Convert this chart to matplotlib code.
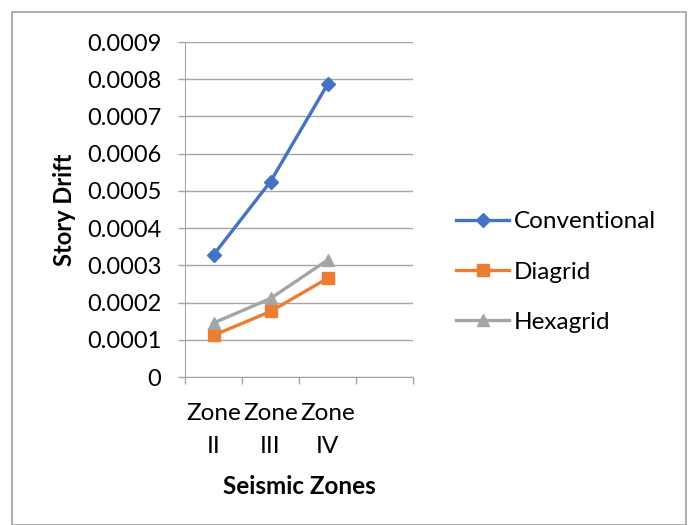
import matplotlib

matplotlib.use("Agg")
import matplotlib.pyplot as plt
from matplotlib.patches import Rectangle

zones = ["Zone\nII", "Zone\nIII", "Zone\nIV"]
n_slots = 4  # excel chart keeps an empty fourth category
conventional = [0.000328, 0.000525, 0.000786]
diagrid = [0.000112, 0.000176, 0.000265]
hexagrid = [0.000145, 0.000211, 0.000314]
y_ticks = [i * 0.0001 for i in range(10)]
y_labels = ["0"] + [f"{v:.4f}" for v in y_ticks[1:]]

plt.rcParams["font.family"] = ["Lato", "DejaVu Sans"]
grey = "#a6a6a6"

fig = plt.figure(figsize=(6.91, 5.25), dpi=100)
ax = fig.add_axes([185 / 691, 1 - 377 / 525, 228 / 691, 335 / 525])

x = list(range(len(zones)))
ax.plot(x, conventional, color="#4472c4", lw=2.4, marker="D", ms=7, label="Conventional")
ax.plot(x, diagrid, color="#ed7d31", lw=2.4, marker="s", ms=8, label="Diagrid")
ax.plot(x, hexagrid, color="#a5a5a5", lw=2.4, marker="^", ms=9, label="Hexagrid")

ax.set_xlim(-0.5, n_slots - 0.5)
ax.set_ylim(0, 0.0009)
ax.set_yticks(y_ticks)
ax.set_yticklabels(y_labels, fontsize=17)
ax.set_xticks([i - 0.5 for i in range(n_slots + 1)])
ax.set_xticklabels([])
ax.set_xticks(x, minor=True)
ax.set_xticklabels(zones, minor=True, fontsize=17.5, linespacing=1.7)
ax.tick_params(axis="x", which="minor", length=0, pad=19)
ax.tick_params(axis="both", which="major", length=5, color=grey, width=1)
ax.tick_params(axis="y", pad=12)
ax.grid(axis="y", color=grey, lw=1)
ax.set_axisbelow(True)
for side in ["top", "right"]:
    ax.spines[side].set_visible(False)
ax.spines["left"].set_color(grey)
ax.spines["bottom"].set_color(grey)

ax.set_xlabel("Seismic Zones", fontsize=17.5, fontweight="bold", labelpad=13)
ax.set_ylabel("Story Drift", fontsize=17, fontweight="bold", labelpad=8)

ax.legend(loc="center left", bbox_to_anchor=(434 / 691, 1 - 272 / 525),
          bbox_transform=fig.transFigure, frameon=False, fontsize=17.5,
          handlelength=2.2, handletextpad=0.2, labelspacing=1.2)

fig.patches.append(Rectangle((12 / 691, 0), 674 / 691, 513 / 525, transform=fig.transFigure,
                             fill=False, edgecolor="#a0a0a0", lw=1.2))
fig.savefig("out.png", dpi=100)
